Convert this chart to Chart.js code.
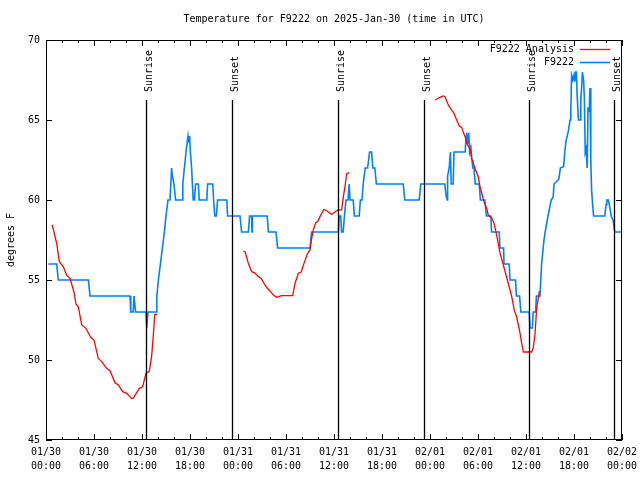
<!DOCTYPE html>
<html><head><meta charset="utf-8">
<script src="https://cdn.jsdelivr.net/npm/chart.js@4"></script>
<style>html,body{margin:0;padding:0;background:#fff}</style>
</head><body>
<canvas id="c" width="640" height="480"></canvas>
<script>
const titleText = 'Temperature for F9222 on 2025-Jan-30 (time in UTC)';
const yAxisLabel = 'degrees F';
const seriesNames = ['F9222 Analysis', 'F9222'];
const seriesColors = ['#ff0000', '#0080ff'];
const xTickHours = [0, 6, 12, 18, 24, 30, 36, 42, 48, 54, 60, 66, 72];
const xTickDates = ['01/30','01/30','01/30','01/30','01/31','01/31','01/31','01/31','02/01','02/01','02/01','02/01','02/02'];
const xTickTimes = ['00:00','06:00','12:00','18:00','00:00','06:00','12:00','18:00','00:00','06:00','12:00','18:00','00:00'];
const yTicks = [45, 50, 55, 60, 65, 70];
const eventHours = [12.5, 23.2, 36.54, 47.2, 60.4, 71.04];
const eventLabels = ['Sunrise', 'Sunset', 'Sunrise', 'Sunset', 'Sunrise', 'Sunset'];

const anaHours = [0.7,0.8,1.33,1.67,2.17,2.58,3.0,3.5,3.75,4.04,4.46,5.0,5.58,6.0,6.54,6.96,7.58,8.0,8.63,9.04,9.58,10.08,10.7,10.9,11.67,12.08,12.5,12.9,13.2,13.4,13.6,13.9,
  14.5,
  24.67,24.9,25.29,25.71,26.1,26.54,26.9,27.25,27.67,28.08,28.42,28.83,29.46,30.83,31.13,31.54,31.9,32.25,32.67,33.0,33.21,33.42,33.71,33.96,34.25,34.75,35.17,35.71,36.25,36.54,36.96,37.17,37.375,37.58,37.92,
  40,
  48.625,49.25,49.67,49.875,50.29,50.71,51.0,51.33,51.67,51.96,52.375,52.67,53.0,53.2,53.625,54.04,54.25,54.46,54.75,55.08,55.29,55.5,55.71,56.0,56.25,56.75,57.08,57.67,58.2,58.54,58.83,59.25,59.46,59.67,60.71,60.92,61.125,61.33,61.67];
const anaTemps = [58.44,58.4,57.3,56.14,55.83,55.3,55.1,54.25,53.5,53.33,52.19,51.98,51.42,51.25,50.1,49.9,49.48,49.33,48.58,48.44,48.02,47.92,47.6,47.6,48.23,48.33,49.17,49.27,50.2,51.46,52.85,52.85,
  null,
  56.81,56.75,56.04,55.52,55.45,55.21,55.1,54.79,54.48,54.27,54.06,53.92,54.02,54.02,54.79,55.42,55.5,56.04,56.63,56.88,57.6,58.13,58.58,58.65,58.96,59.42,59.3,59.1,59.3,59.38,59.38,60.21,60.83,61.63,61.71,
  null,
  66.25,66.42,66.5,66.46,65.94,65.62,65.42,65.0,64.62,64.54,63.96,63.44,63.23,62.6,61.98,61.46,60.83,60.42,59.9,59.48,59.06,58.96,58.9,58.54,58.0,56.7,56.1,55.0,54.0,53.1,52.7,51.7,51.04,50.5,50.5,50.8,51.6,53.2,54.3];

const obsHours = [0.3,1.33,1.54,5.3,5.5,10.5,10.6,10.9,11.0,11.2,12.5,12.6,12.75,13.75,13.85,14.05,14.3,14.55,14.8,15.0,15.25,15.5,15.7,15.8,16.0,16.2,17.0,17.1,17.3,17.5,17.75,17.85,17.95,18.05,18.2,18.3,18.4,18.55,18.7,19.05,19.15,20.1,20.2,20.85,20.95,21.1,21.3,21.45,22.6,22.7,24.25,24.45,25.3,25.45,25.7,25.75,25.8,27.65,27.8,28.75,28.95,33.0,33.2,
  36.55,36.65,36.85,36.95,37.15,37.3,37.5,37.75,37.9,38.0,38.4,38.55,39.15,39.3,39.5,39.65,39.9,40.2,40.45,40.7,40.85,41.1,41.3,44.65,44.85,46.65,46.85,49.85,50.0,50.15,50.2,50.4,50.55,50.65,50.9,51.0,52.4,52.5,52.6,52.7,52.85,52.95,53.1,53.25,53.35,53.5,53.65,54.15,54.3,54.85,55.05,55.6,55.7,56.65,56.75,57.2,57.25,57.9,58.0,58.7,58.8,59.2,59.35,60.4,60.5,60.8,60.9,61.2,61.3,61.75,61.95,62.25,62.4,62.75,63.0,63.15,63.4,63.5,64.1,64.3,64.7,64.85,65.0,65.3,65.5,65.6,65.7,65.85,66.0,66.1,66.2,66.3,66.4,66.55,66.75,66.85,66.95,67.05,67.2,67.3,67.4,67.5,67.65,67.75,67.9,68.0,68.1,68.2,68.35,68.45,69.85,70.0,70.1,70.3,70.45,70.65,70.9,71.1,72.0];
const obsTemps = [56,56,55,55,54,54,53,53,54,53,53,52,53,53,54,55,56,57,58,59,60,60,62,61.5,61,60,60,61,62,63,64,63.6,64,63,62,61,60,60,61,61,60,60,61,61,60,59,59,60,60,59,59,58,58,59,59,58,59,59,58,58,57,57,58,
  58,59,59,58,58,59,60,60,61,60,60,59,59,60,60,61,62,62,63,63,62,62,61,61,60,60,61,61,60.3,60,61.5,62,63,61,61,63,63,64,64.2,63.5,64.2,63,63.3,62.5,62,62,61,61,60,60,59,59,58,58,57,57,56,56,55,55,54,54,53,53,52,52,53,53,54,54,56,57.5,58,59,59.6,60,60.2,61,61.3,62,62.1,63,63.7,64.3,65,65.6,67.8,67.5,67.8,67.4,68,68,66.5,65,65,66.3,67,68,67.5,66.3,63,63.2,62,65.7,65.6,67,62.5,60.6,59.6,59,59,59.7,60,60,59.6,59,58.7,58,58];

const FONT = 'DejaVu Sans Mono';

const overlay = {
  id: 'overlay',
  afterDatasetsDraw(chart) {
    const {ctx, chartArea: a, scales: {x, y}} = chart;
    const h = a.bottom - a.top;
    ctx.save();
    ctx.strokeStyle = '#000';
    ctx.fillStyle = '#000';
    ctx.lineWidth = 1;
    ctx.strokeRect(a.left + 0.5, a.top + 0.5, a.right - a.left - 1, h - 1);
    ctx.beginPath();
    for (let hr = 0; hr <= 72; hr += 2) {
      const px = Math.round(x.getPixelForValue(hr)) + 0.5;
      const len = hr % 6 === 0 ? 6 : 3;
      ctx.moveTo(px, a.bottom); ctx.lineTo(px, a.bottom - len);
      ctx.moveTo(px, a.top); ctx.lineTo(px, a.top + len);
    }
    yTicks.forEach(v => {
      const py = Math.round(y.getPixelForValue(v)) + 0.5;
      ctx.moveTo(a.left, py); ctx.lineTo(a.left + 6, py);
      ctx.moveTo(a.right, py); ctx.lineTo(a.right - 6, py);
    });
    ctx.stroke();
    // sunrise / sunset markers
    ctx.lineWidth = 1.3;
    ctx.font = '10px "' + FONT + '"';
    eventHours.forEach((eh, i) => {
      const px = Math.round(x.getPixelForValue(eh)) + 0.5;
      ctx.beginPath();
      ctx.moveTo(px, a.bottom);
      ctx.lineTo(px, a.bottom - 0.85 * h);
      ctx.stroke();
      ctx.save();
      ctx.translate(px + 5.5, a.bottom - 0.87 * h);
      ctx.rotate(-Math.PI / 2);
      ctx.textAlign = 'left';
      ctx.textBaseline = 'alphabetic';
      ctx.fillText(eventLabels[i], 0, 0);
      ctx.restore();
    });
    // legend
    seriesNames.forEach((name, i) => {
      const ry = a.top + 9.5 + i * 13;
      ctx.textAlign = 'right';
      ctx.textBaseline = 'middle';
      ctx.fillStyle = '#000';
      ctx.fillText(name, a.right - 48, ry);
      ctx.strokeStyle = seriesColors[i];
      ctx.lineWidth = i === 0 ? 1.3 : 1.6;
      ctx.beginPath();
      ctx.moveTo(a.right - 42, Math.round(ry) - 0.5);
      ctx.lineTo(a.right - 12, Math.round(ry) - 0.5);
      ctx.stroke();
    });
    // title and y label
    ctx.fillStyle = '#000';
    ctx.textAlign = 'center';
    ctx.textBaseline = 'middle';
    ctx.fillText(titleText, (a.left + a.right) / 2, 19);
    ctx.save();
    ctx.translate(11, (a.top + a.bottom) / 2);
    ctx.rotate(-Math.PI / 2);
    ctx.fillText(yAxisLabel, 0, 0);
    ctx.restore();
    ctx.restore();
  }
};

new Chart(document.getElementById('c'), {
  type: 'line',
  data: {
    datasets: [
      {
        label: seriesNames[0],
        data: anaHours.map((t, i) => ({x: t, y: anaTemps[i]})),
        borderColor: seriesColors[0],
        borderWidth: 1.3,
        pointRadius: 0,
        tension: 0,
        spanGaps: false
      },
      {
        label: seriesNames[1],
        data: obsHours.map((t, i) => ({x: t, y: obsTemps[i]})),
        borderColor: seriesColors[1],
        borderWidth: 1.6,
        pointRadius: 0,
        tension: 0
      }
    ]
  },
  options: {
    responsive: false,
    animation: false,
    devicePixelRatio: 1,
    layout: {padding: {top: 40, right: 18, left: 0, bottom: 0}},
    plugins: {legend: {display: false}, title: {display: false}, tooltip: {enabled: false}},
    scales: {
      x: {
        type: 'linear', min: 0, max: 72,
        afterBuildTicks: s => { s.ticks = xTickHours.map(v => ({value: v})); },
        afterFit: s => { s.height = 40; s.paddingLeft = 0; s.paddingRight = 0; },
        ticks: {
          autoSkip: false, maxRotation: 0, minRotation: 0, padding: 5, color: '#000',
          font: {family: FONT, size: 10, lineHeight: 1.4},
          callback: (v) => { const i = xTickHours.indexOf(v); return i < 0 ? '' : [xTickDates[i], xTickTimes[i]]; }
        },
        grid: {display: false, drawTicks: false},
        border: {display: false}
      },
      y: {
        min: 45, max: 70,
        afterBuildTicks: s => { s.ticks = yTicks.map(v => ({value: v})); },
        afterFit: s => { s.width = 46; s.paddingTop = 0; s.paddingBottom = 0; },
        ticks: {padding: 6, color: '#000', font: {family: FONT, size: 10}},
        grid: {display: false, drawTicks: false},
        border: {display: false}
      }
    }
  },
  plugins: [overlay]
});
</script>
</body></html>
